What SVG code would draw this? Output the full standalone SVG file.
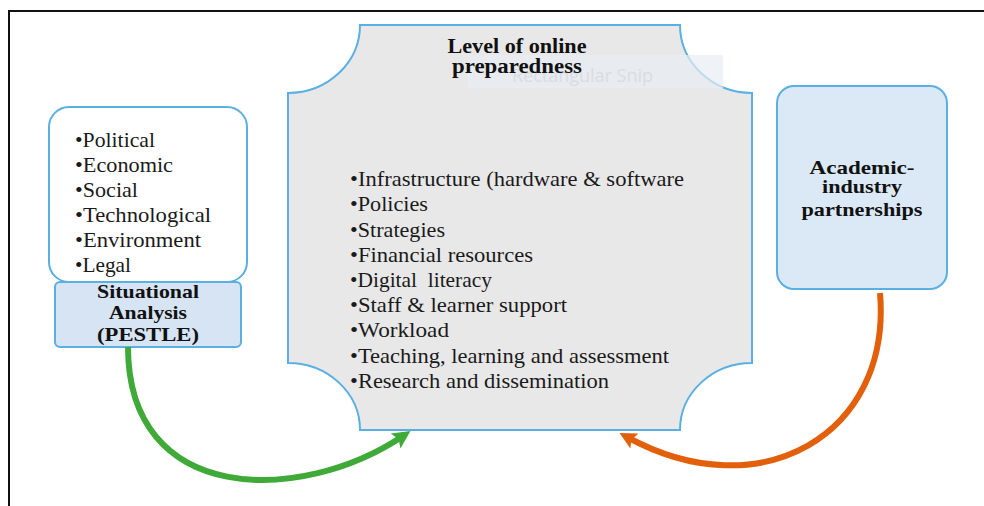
<svg xmlns="http://www.w3.org/2000/svg" width="984" height="506" viewBox="0 0 984 506">
  <style>
    .frame { fill: none; stroke: #111; stroke-width: 2; }
    .edge { stroke: #5aafe3; stroke-width: 2; }
    .item { font-family: "Liberation Serif", "Times New Roman", serif; font-size: 21px; fill: #1a1a1a; }
    .head { font-family: "Liberation Serif", "Times New Roman", serif; font-weight: bold; fill: #111; text-anchor: middle; }
    .snip { font-family: "Open Sans", "Liberation Sans", sans-serif; font-size: 18px; fill: #d9dde3; }
  </style>
  <defs>
    <marker id="headGreen" viewBox="0 0 10 10" refX="5" refY="5" markerWidth="18" markerHeight="18" markerUnits="userSpaceOnUse" orient="auto">
      <path d="M0,0 L10,5 L0,10 L2,5 z" fill="#3faa38"/>
    </marker>
    <marker id="headOrange" viewBox="0 0 10 10" refX="5" refY="5" markerWidth="17" markerHeight="17" markerUnits="userSpaceOnUse" orient="auto">
      <path d="M0,0 L10,5 L0,10 L2,5 z" fill="#e2600c"/>
    </marker>
  </defs>

  <rect width="984" height="506" fill="#ffffff"/>
  <!-- outer frame (open on the right and bottom) -->
  <path class="frame" d="M9,506 L9,11 L984,11"/>

  <!-- central plaque -->
  <g id="preparedness">
    <path class="edge" fill="#e8e8e8" d="M360,25 L680,25 A72,68 0 0 0 752,93 L752,363 A72,67 0 0 0 680,430 L360,430 A72,67 0 0 0 288,363 L288,93 A72,68 0 0 0 360,25 Z"/>
    <rect x="468" y="55" width="255" height="33" fill="#e8edf4" opacity="0.7"/>
    <text class="snip" x="512" y="82" textLength="141" lengthAdjust="spacingAndGlyphs">Rectangular Snip</text>
    <text class="head" font-size="20" x="517" y="53" textLength="139" lengthAdjust="spacingAndGlyphs">Level of online</text>
    <text class="head" font-size="20" x="517" y="73" textLength="130" lengthAdjust="spacingAndGlyphs">preparedness</text>
    <text class="item" x="350" y="186" textLength="334" lengthAdjust="spacingAndGlyphs">•Infrastructure (hardware &amp; software</text>
    <text class="item" x="350" y="211" textLength="78" lengthAdjust="spacingAndGlyphs">•Policies</text>
    <text class="item" x="350" y="237" textLength="95" lengthAdjust="spacingAndGlyphs">•Strategies</text>
    <text class="item" x="350" y="262" textLength="183" lengthAdjust="spacingAndGlyphs">•Financial resources</text>
    <text class="item" x="350" y="287" textLength="142" lengthAdjust="spacingAndGlyphs" xml:space="preserve">•Digital  literacy</text>
    <text class="item" x="350" y="312" textLength="217" lengthAdjust="spacingAndGlyphs">•Staff &amp; learner support</text>
    <text class="item" x="350" y="337" textLength="99" lengthAdjust="spacingAndGlyphs">•Workload</text>
    <text class="item" x="350" y="363" textLength="319" lengthAdjust="spacingAndGlyphs">•Teaching, learning and assessment</text>
    <text class="item" x="350" y="388" textLength="259" lengthAdjust="spacingAndGlyphs">•Research and dissemination</text>
  </g>

  <!-- PESTLE factors -->
  <g id="pestle-factors">
    <rect class="edge" x="49" y="107" width="198" height="175" rx="20" ry="20" fill="#ffffff"/>
    <text class="item" x="75" y="147" textLength="80" lengthAdjust="spacingAndGlyphs">•Political</text>
    <text class="item" x="75" y="172" textLength="98" lengthAdjust="spacingAndGlyphs">•Economic</text>
    <text class="item" x="75" y="197" textLength="63" lengthAdjust="spacingAndGlyphs">•Social</text>
    <text class="item" x="75" y="222" textLength="136" lengthAdjust="spacingAndGlyphs">•Technological</text>
    <text class="item" x="75" y="247" textLength="126" lengthAdjust="spacingAndGlyphs">•Environment</text>
    <text class="item" x="75" y="272" textLength="56" lengthAdjust="spacingAndGlyphs">•Legal</text>
  </g>

  <!-- situational analysis label -->
  <g id="situational-analysis">
    <rect class="edge" x="55" y="282" width="186" height="65" rx="5" ry="5" fill="#d6e4f4"/>
    <text class="head" font-size="19" x="148" y="298" textLength="102" lengthAdjust="spacingAndGlyphs">Situational</text>
    <text class="head" font-size="19" x="148" y="319" textLength="78" lengthAdjust="spacingAndGlyphs">Analysis</text>
    <text class="head" font-size="19" x="148" y="341" textLength="102" lengthAdjust="spacingAndGlyphs">(PESTLE)</text>
  </g>

  <!-- partnerships -->
  <g id="partnerships">
    <rect class="edge" x="777" y="86" width="170" height="203" rx="17" ry="17" fill="#dbe9f6"/>
    <text class="head" font-size="19" x="862" y="174" textLength="105" lengthAdjust="spacingAndGlyphs">Academic-</text>
    <text class="head" font-size="19" x="862" y="193" textLength="80" lengthAdjust="spacingAndGlyphs">industry</text>
    <text class="head" font-size="19" x="862" y="216" textLength="121" lengthAdjust="spacingAndGlyphs">partnerships</text>
  </g>

  <!-- connectors -->
  <g id="connectors" fill="none" stroke-width="6">
    <path d="M128,347 C128,505 300,505 403,436" stroke="#3faa38" marker-end="url(#headGreen)"/>
    <path d="M880,293 C892,435 760,510 627,437" stroke="#e2600c" marker-end="url(#headOrange)"/>
  </g>
</svg>
